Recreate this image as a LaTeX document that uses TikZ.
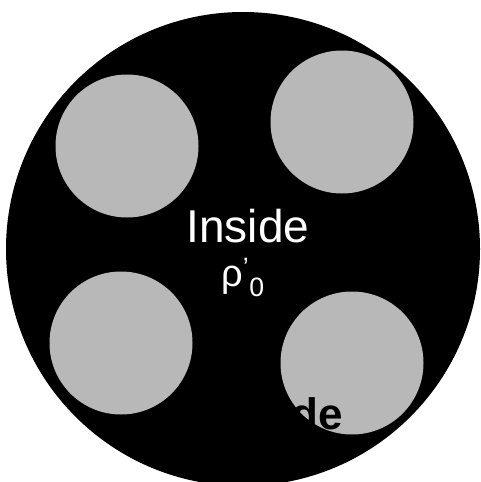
\documentclass[tikz,border=0pt]{standalone}
\usepackage{fontspec}
\setmainfont{Liberation Sans}
\usepackage{xcolor}
\usepackage{tikz}
\definecolor{speckle}{HTML}{B8B8B8}

\begin{document}
\begin{tikzpicture}[
  x=1pt, y=-1pt,
  disk/.style={circle, fill=black, inner sep=0pt, minimum size=474pt},
  hole/.style={circle, fill=speckle, inner sep=0pt, minimum size=143pt},
  word/.style={inner sep=0pt, font=\fontsize{46}{46}\selectfont}
]
\useasboundingbox[fill=white] (0,0) rectangle (481,482);
\node[disk] (disk) at (243,249) {};

\node[hole] (nw) at (127,146) {};
\node[hole] (ne) at (342,122) {};
\node[hole] (sw) at (121,343) {};
\node[hole] (se) at (352,363) {};

\node[word, text=white, anchor=base] (inside) at (248,242) {Inside};
\node[inner sep=0pt, text=white, anchor=base, font=\fontsize{38}{38}\selectfont]
  (rho) at (243,286) {ρ\textsuperscript{'}\textsubscript{0}};
\node[word, text=black, anchor=base east, font=\fontsize{44}{44}\selectfont\bfseries]
  (de) at (343,429) {de};
\end{tikzpicture}
\end{document}
